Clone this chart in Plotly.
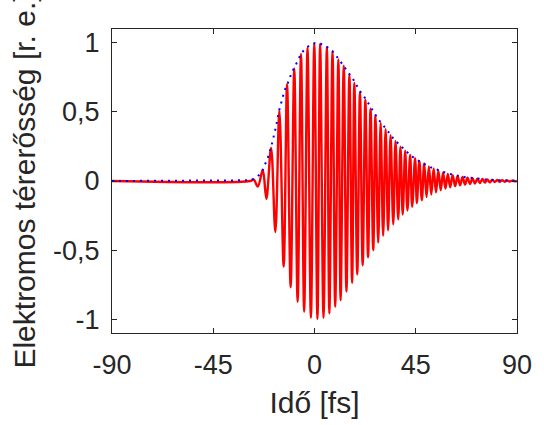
import plotly.graph_objects as go

# Extrema of the red field trace (time in fs, value in r. e.)
ext_t = [-27.0, -25.2, -23.0, -21.4, -19.3, -17.4, -15.6, -13.7, -12.2, -10.6,
         -9.0, -7.5, -6.0, -4.6, -3.1, -1.6, -0.1, 1.3, 2.5, 4.0,
         5.5, 6.6, 8.0, 9.2, 10.6, 11.6, 13.0, 14.2, 15.5, 16.7,
         17.7, 19.0, 20.2, 21.4, 22.6, 23.8, 24.9, 26.1, 27.1, 28.3,
         29.4, 30.5, 31.6, 32.7, 33.8, 35.0, 36.0, 37.2, 38.2, 39.2,
         40.3, 41.3, 42.5, 43.4, 44.7, 45.5, 46.6, 47.7, 48.75, 49.8,
         50.85, 51.9, 52.95, 54.0, 55.05, 56.1, 57.15, 58.2, 59.25, 60.3,
         61.4, 62.5, 63.6, 64.7, 65.8, 66.9, 68.0, 69.1, 70.2, 71.3,
         72.4, 73.5, 74.6, 75.7, 76.8, 77.9, 79.0, 80.1, 81.2, 82.3,
         83.4, 84.5, 85.6, 86.7, 87.8, 88.9]
ext_v = [0.01, -0.04, 0.08, -0.13, 0.24, -0.37, 0.51, -0.62, 0.70, -0.77,
         0.815, -0.875, 0.92, -0.946, 0.965, -0.99, 0.996, -0.999, 0.994, -0.99,
         0.97, -0.958, 0.94, -0.91, 0.88, -0.862, 0.834, -0.80, 0.77, -0.736,
         0.71, -0.676, 0.643, -0.61, 0.588, -0.552, 0.523, -0.50, 0.477, -0.446,
         0.42, -0.396, 0.375, -0.356, 0.332, -0.313, 0.289, -0.277, 0.249, -0.242,
         0.22, -0.213, 0.189, -0.186, 0.165, -0.16, 0.146, -0.139, 0.127, -0.115,
         0.106, -0.098, 0.09, -0.081, 0.075, -0.067, 0.062, -0.055, 0.051, -0.045,
         0.042, -0.037, 0.034, -0.031, 0.029, -0.026, 0.024, -0.022, 0.02, -0.018,
         0.016, -0.015, 0.014, -0.012, 0.011, -0.01, 0.009, -0.008, 0.007, -0.006,
         0.006, -0.005, 0.004, -0.004, 0.003, -0.003]

field_t = [-90, -28.5] + ext_t + [90]
field_v = [0, 0] + ext_v + [0]

# Envelope (blue dotted)
env_t = [-90, -31, -29, -27, -25, -24.5, -23.2, -22, -20.7, -19.2, -18, -17, -15.9,
         -14.5, -13.3, -11.9, -10.2, -7.8, -5.9, -3.5, -1.9, 0.3, 2.5, 5.5, 8, 11,
         12.7, 15.8, 17.3, 19.8, 22.7, 25.4, 28.3, 31.7, 35, 38.6, 42.8, 46.8, 51.5,
         56.6, 61.5, 66.7, 71.8, 77, 84, 90]
env_v = [0, 0, 0.005, 0.015, 0.035, 0.045, 0.074, 0.117, 0.17, 0.25, 0.33, 0.40, 0.50,
         0.58, 0.655, 0.707, 0.78, 0.858, 0.925, 0.965, 0.985, 0.998, 0.995, 0.97, 0.94, 0.877,
         0.84, 0.774, 0.733, 0.66, 0.595, 0.523, 0.447, 0.38, 0.308, 0.249, 0.184, 0.14, 0.1,
         0.069, 0.045, 0.029, 0.017, 0.009, 0.005, 0.003]

x_ticks = [-90, -45, 0, 45, 90]
x_ticktext = ["-90", "-45", "0", "45", "90"]
y_ticks = [-1, -0.5, 0, 0.5, 1]
y_ticktext = ["-1", "-0,5", "0", "0,5", "1"]

FONT = "Liberation Sans, Arial, Helvetica, sans-serif"
AX = "#262626"

fig = go.Figure()
fig.add_trace(go.Scatter(x=field_t, y=field_v, mode="lines",
                         line=dict(color="#FF0000", width=2.4, shape="spline", smoothing=1),
                         hoverinfo="skip", showlegend=False))
fig.add_trace(go.Scatter(x=env_t, y=env_v, mode="lines",
                         line=dict(color="#0000FF", width=2, dash="2px,5px"),
                         hoverinfo="skip", showlegend=False))

axis_common = dict(showline=True, linecolor=AX, linewidth=1, mirror="ticks",
                   ticks="inside", ticklen=5, tickwidth=1, tickcolor=AX,
                   showgrid=False, zeroline=False,
                   tickfont=dict(family=FONT, size=27, color=AX))

fig.update_layout(
    width=544, height=425,
    margin=dict(l=112, r=25, t=29, b=89),
    paper_bgcolor="white", plot_bgcolor="white",
    font=dict(family=FONT, color=AX),
    xaxis=dict(range=[-90, 90], tickvals=x_ticks, ticktext=x_ticktext, ticklabelstandoff=8,
               title=dict(text="Idő [fs]", font=dict(family=FONT, size=30, color=AX), standoff=12),
               **axis_common),
    yaxis=dict(range=[-1.1, 1.1], tickvals=y_ticks, ticktext=y_ticktext, ticklabelstandoff=6,
               title=dict(text="Elektromos térerősség [r. e.]", font=dict(family=FONT, size=30, color=AX), standoff=8),
               **axis_common),
)

fig.write_html("out.html")
